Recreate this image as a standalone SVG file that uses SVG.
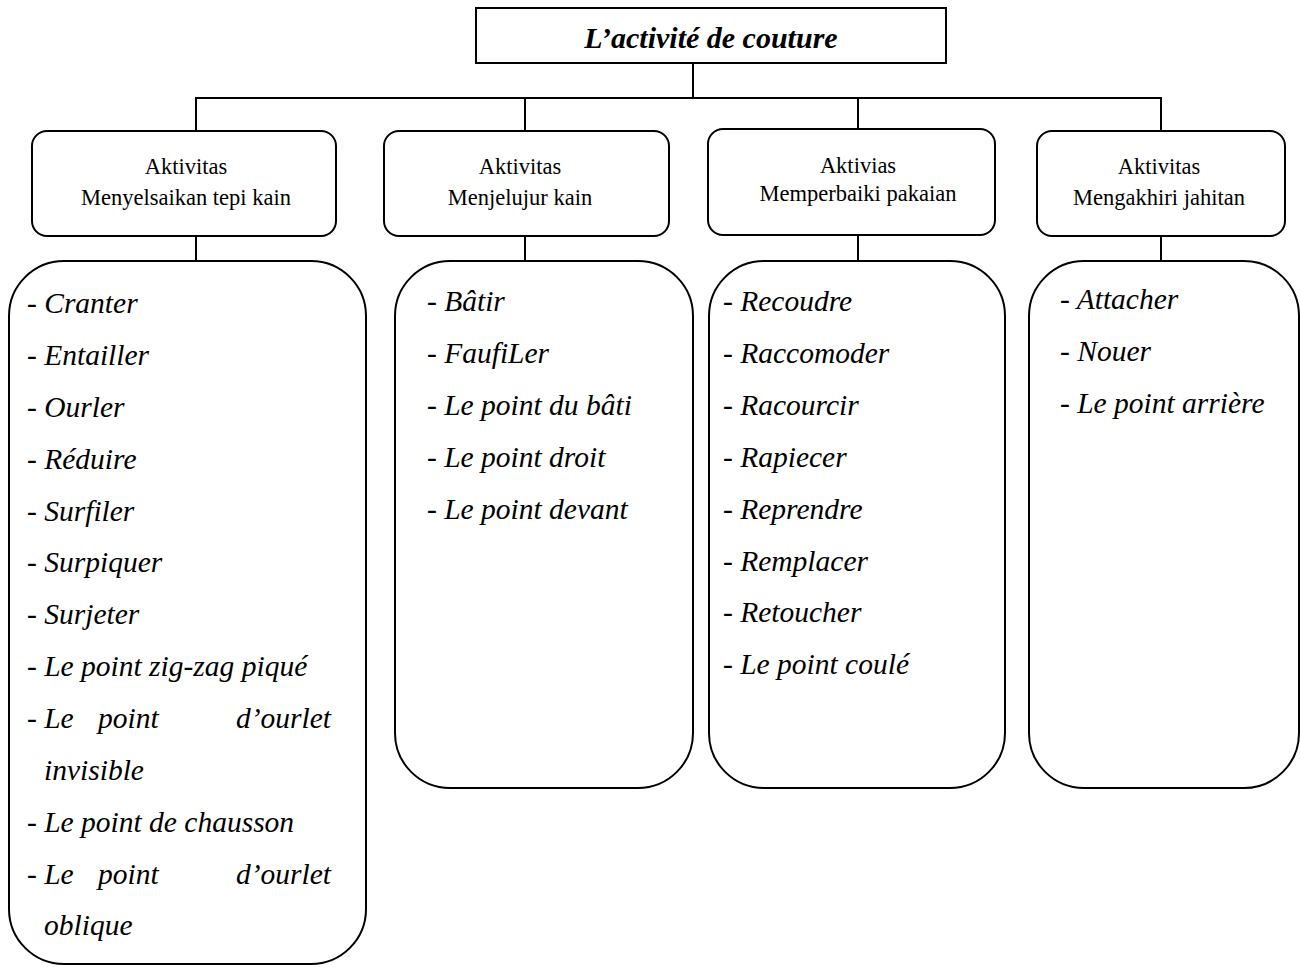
<svg xmlns="http://www.w3.org/2000/svg" width="1301" height="967" viewBox="0 0 1301 967">
<style>
.box{fill:#fff;stroke:#000;stroke-width:2}
.ln{stroke:#000;stroke-width:2;fill:none}
.title{font-family:"Liberation Serif","Times New Roman",serif;font-size:30px;font-weight:bold;font-style:italic;text-anchor:middle}
.hd{font-family:"Liberation Serif","Times New Roman",serif;font-size:22.5px;text-anchor:middle}
.it{font-family:"Liberation Serif","Times New Roman",serif;font-size:29.5px;font-style:italic}
</style>
<rect width="1301" height="967" fill="#fff"/>
<g id="connectors">
<line class="ln" x1="693" y1="63" x2="693" y2="98"/>
<line class="ln" x1="195" y1="98" x2="1162" y2="98"/>
<line class="ln" x1="196" y1="98" x2="196" y2="131"/>
<line class="ln" x1="525" y1="98" x2="525" y2="131"/>
<line class="ln" x1="858" y1="98" x2="858" y2="129"/>
<line class="ln" x1="1161" y1="98" x2="1161" y2="131"/>
<line class="ln" x1="196" y1="236" x2="196" y2="261"/>
<line class="ln" x1="525" y1="236" x2="525" y2="261"/>
<line class="ln" x1="858" y1="235" x2="858" y2="261"/>
<line class="ln" x1="1161" y1="236" x2="1161" y2="261"/>
</g>
<g id="root">
<rect class="box" x="476" y="8" width="470" height="55"/>
<text class="title" x="711" y="48">L’activité de couture</text>
</g>
<g id="n1">
<rect class="box" x="32" y="131" width="304" height="105" rx="15"/>
<text class="hd" x="186" y="174">Aktivitas</text>
<text class="hd" x="186" y="205">Menyelsaikan tepi kain</text>
</g>
<g id="n2">
<rect class="box" x="384" y="131" width="285" height="105" rx="15"/>
<text class="hd" x="520" y="174">Aktivitas</text>
<text class="hd" x="520" y="205">Menjelujur kain</text>
</g>
<g id="n3">
<rect class="box" x="708" y="129" width="287" height="106" rx="15"/>
<text class="hd" x="858" y="173">Aktivias</text>
<text class="hd" x="858" y="201">Memperbaiki pakaian</text>
</g>
<g id="n4">
<rect class="box" x="1037" y="131" width="248" height="105" rx="15"/>
<text class="hd" x="1159" y="174">Aktivitas</text>
<text class="hd" x="1159" y="205">Mengakhiri jahitan</text>
</g>
<g id="list1">
<rect class="box" x="9" y="261" width="357" height="703" rx="55"/>
<text class="it" x="27" y="313">- Cranter</text>
<text class="it" x="27" y="365">- Entailler</text>
<text class="it" x="27" y="417">- Ourler</text>
<text class="it" x="27" y="469">- Réduire</text>
<text class="it" x="27" y="521">- Surfiler</text>
<text class="it" x="27" y="572">- Surpiquer</text>
<text class="it" x="27" y="624">- Surjeter</text>
<text class="it" x="27" y="676">- Le point zig-zag piqué</text>
<text class="it" y="728"><tspan x="27">- Le</tspan><tspan x="98">point</tspan><tspan x="331" text-anchor="end">d’ourlet</tspan></text>
<text class="it" x="44" y="780">invisible</text>
<text class="it" x="27" y="832">- Le point de chausson</text>
<text class="it" y="884"><tspan x="27">- Le</tspan><tspan x="98">point</tspan><tspan x="331" text-anchor="end">d’ourlet</tspan></text>
<text class="it" x="44" y="935">oblique</text>
</g>
<g id="list2">
<rect class="box" x="395" y="261" width="298" height="527" rx="55"/>
<text class="it" x="427" y="311">- Bâtir</text>
<text class="it" x="427" y="363">- FaufiLer</text>
<text class="it" x="427" y="415">- Le point du bâti</text>
<text class="it" x="427" y="467">- Le point droit</text>
<text class="it" x="427" y="519">- Le point devant</text>
</g>
<g id="list3">
<rect class="box" x="709" y="261" width="296" height="527" rx="55"/>
<text class="it" x="723" y="311">- Recoudre</text>
<text class="it" x="723" y="363">- Raccomoder</text>
<text class="it" x="723" y="415">- Racourcir</text>
<text class="it" x="723" y="467">- Rapiecer</text>
<text class="it" x="723" y="519">- Reprendre</text>
<text class="it" x="723" y="571">- Remplacer</text>
<text class="it" x="723" y="622">- Retoucher</text>
<text class="it" x="723" y="674">- Le point coulé</text>
</g>
<g id="list4">
<rect class="box" x="1029" y="261" width="270" height="527" rx="55"/>
<text class="it" x="1060" y="309">- Attacher</text>
<text class="it" x="1060" y="361">- Nouer</text>
<text class="it" x="1060" y="413">- Le point arrière</text>
</g>
</svg>
